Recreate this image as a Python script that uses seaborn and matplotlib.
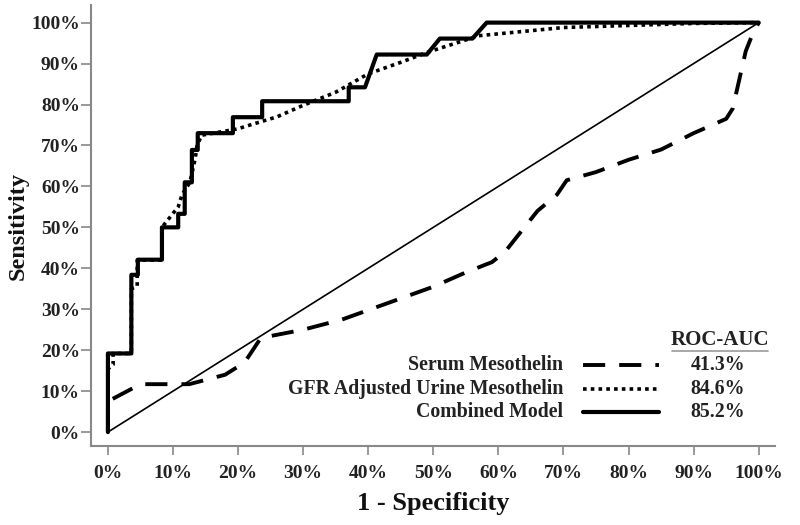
import matplotlib
matplotlib.use("Agg")
import matplotlib.pyplot as plt
from matplotlib.lines import Line2D
import seaborn as sns

# ---- data (percent) ----
serum_fpr = [0, 0, 5, 12.5, 18, 21, 23.5, 30, 36, 43, 50, 55, 59, 61, 63, 66, 69, 70.5, 75, 80, 85, 90, 95, 96, 97, 98, 99, 100]
serum_tpr = [0, 7.5, 11.7, 11.7, 14, 17, 23, 25, 27.5, 31.5, 35.5, 39, 41.5, 44, 48, 54, 58, 61.5, 63.5, 66.5, 69, 73, 76.5, 79, 86, 93, 97, 100]

urine_fpr = [0, 0, 0.8, 0.8, 3.6, 3.6, 4.5, 4.5, 8.3, 8.3, 10.8, 11.4, 12.6, 13.4, 13.7, 14.4, 19.8, 23.3, 26, 30, 35, 40, 45, 49, 57, 70, 80, 90, 100]
urine_tpr = [0, 15.4, 16.5, 19.2, 19.2, 35, 35.6, 42, 42, 50, 55, 58, 61, 66.7, 70, 72.5, 74, 75.7, 77, 79.8, 83, 87.5, 90.3, 92.7, 96.8, 98.8, 99.3, 99.8, 100]

comb_fpr = [0, 0, 3.6, 3.6, 4.6, 4.6, 8.3, 8.3, 10.8, 10.8, 11.8, 11.8, 12.9, 12.9, 13.8, 13.8, 19.2, 19.2, 23.7, 23.7, 37, 37, 39.5, 41.3, 49, 51, 56, 58.2, 100]
comb_tpr = [0, 19.2, 19.2, 38.4, 38.4, 42.1, 42.1, 50, 50, 53.3, 53.3, 61, 61, 68.9, 68.9, 73, 73, 76.9, 76.9, 80.8, 80.8, 84.2, 84.2, 92.2, 92.2, 96.1, 96.1, 100, 100]

ref_fpr = [0, 100]
ref_tpr = [0, 100]

labels = ["Serum Mesothelin", "GFR Adjusted Urine Mesothelin", "Combined Model"]
aucs = ["41.3%", "84.6%", "85.2%"]
ticks = list(range(0, 101, 10))
tick_labels = [f"{t}%" for t in ticks]

sns.set_theme(style="white")
plt.rcParams["font.family"] = ["Liberation Serif", "DejaVu Serif"]
plt.rcParams["font.weight"] = "bold"

fig = plt.figure(figsize=(8, 5.25), dpi=100)
W, H = 800, 525
ax = fig.add_axes([91 / W, 1 - 446 / H, (775 - 91) / W, (446 - 5) / H])

styles = {
    "serum": dict(color="black", lw=2.8, dashes=(5.7, 3.6)),
    "urine": dict(color="black", lw=2.6, dashes=(1.0, 1.15)),
    "comb": dict(color="black", lw=3.0),
}

sns.lineplot(x=ref_fpr, y=ref_tpr, ax=ax, color="black", lw=1.2, sort=False, estimator=None)
sns.lineplot(x=serum_fpr, y=serum_tpr, ax=ax, sort=False, estimator=None, **styles["serum"])
sns.lineplot(x=urine_fpr, y=urine_tpr, ax=ax, sort=False, estimator=None, **styles["urine"])
sns.lineplot(x=comb_fpr, y=comb_tpr, ax=ax, sort=False, estimator=None, **styles["comb"])

ax.set_xlim(-2.6, 102.5)
ax.set_ylim(-3.4, 104.3)
ax.set_xticks(ticks)
ax.set_xticklabels(tick_labels)
ax.set_yticks(ticks)
ax.set_yticklabels(tick_labels)
ax.tick_params(axis="both", which="major", direction="out", width=1.2,
               color="#888888", labelsize=14, bottom=True, left=True)
ax.tick_params(axis="x", length=6.5, pad=7.5)
ax.tick_params(axis="y", length=7, pad=1)
for lab in ax.get_xticklabels() + ax.get_yticklabels():
    lab.set_fontweight("bold")
    lab.set_color("#222222")
for s in ["top", "right"]:
    ax.spines[s].set_visible(False)
for s in ["left", "bottom"]:
    ax.spines[s].set_color("#888888")
    ax.spines[s].set_linewidth(1.5)

ax.set_xlabel("1 - Specificity", fontsize=19, fontweight="bold", labelpad=7, color="#111111")
ax.set_ylabel("Sensitivity", fontsize=17.5, fontweight="bold", labelpad=1.5, color="#111111")

# ---- custom legend ----
def fx(px):
    return px / W

def fy(py):
    return 1 - py / H

fig.text(fx(720), fy(340), "ROC-AUC", ha="center", va="center", fontsize=15, fontweight="bold", color="#222222")
fig.add_artist(Line2D([fx(672), fx(768)], [fy(350.5), fy(350.5)], color="#999999", lw=1.2))
rows = [365, 389, 412]
keys = ["serum", "urine", "comb"]
for yy, lab, auc, k in zip(rows, labels, aucs, keys):
    fig.text(fx(563), fy(yy), lab, ha="right", va="center", fontsize=14.3, fontweight="bold", color="#222222")
    fig.text(fx(718), fy(yy), auc, ha="center", va="center", fontsize=14.3, fontweight="bold", color="#222222")
    fig.add_artist(Line2D([fx(583), fx(659)], [fy(yy), fy(yy)], **styles[k]))

fig.savefig("out.png", dpi=100)
